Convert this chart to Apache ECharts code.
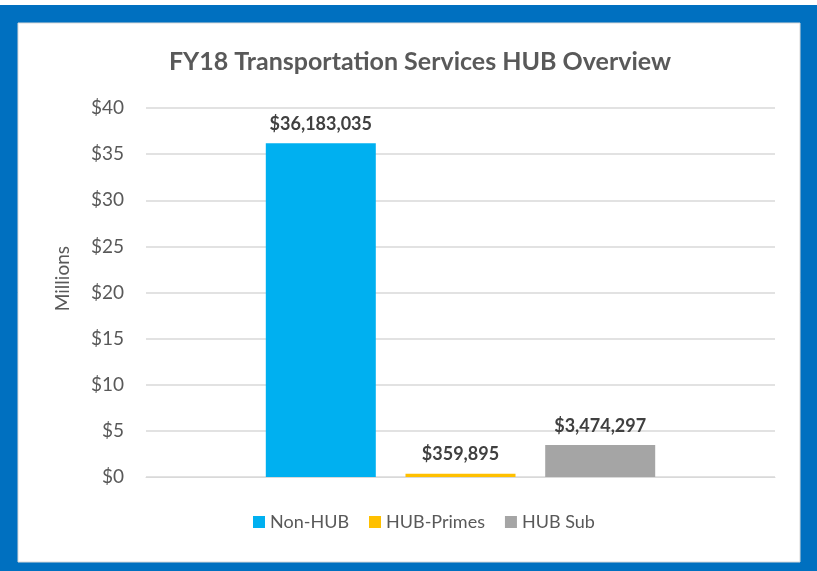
<!DOCTYPE html>
<html>
<head>
<meta charset="utf-8">
<script src="https://cdn.jsdelivr.net/npm/echarts@6/dist/echarts.min.js"></script>
<style>
  html, body { margin: 0; padding: 0; background: #fff; }
  #chart { width: 817px; height: 571px; }
</style>
</head>
<body>
<div id="chart"></div>
<script>
// values in millions of dollars
const categories = ['FY18'];
const seriesNames = ['Non-HUB', 'HUB-Primes', 'HUB Sub'];
const seriesValues = [36.183035, 0.359895, 3.474297];
const seriesColors = ['#00B0F0', '#FFC000', '#A5A5A5'];
const yTicks = [0, 5, 10, 15, 20, 25, 30, 35, 40];

const font = 'Lato, "Open Sans", sans-serif';

const fmtDollars = v => '$' + Math.round(v * 1e6).toLocaleString('en-US');

const chart = echarts.init(document.getElementById('chart'));

chart.setOption({
    animation: false,
    textStyle: { fontFamily: font },
    graphic: [
        // blue frame + white panel
        { type: 'rect', z: -10, shape: { x: 0, y: 5, width: 817, height: 566 }, style: { fill: '#0070C0' } },
        { type: 'rect', z: -9, shape: { x: 18, y: 23, width: 782, height: 539 }, style: { fill: '#fff', stroke: '#D9D9D9', lineWidth: 1 } },
        {
            type: 'text', left: 53, top: 246, rotation: Math.PI / 2,
            style: { text: 'Millions', font: '19px ' + font, fill: '#595959' }
        }
    ],
    title: {
        text: 'FY18 Transportation Services HUB Overview',
        left: 415,
        textAlign: 'center',
        top: 44,
        textStyle: { fontFamily: font, fontSize: 25, fontWeight: 'bold', color: '#595959' }
    },
    legend: {
        bottom: 35,
        left: 248,
        itemWidth: 12,
        itemHeight: 12,
        itemGap: 20,
        icon: 'rect',
        textStyle: { fontFamily: font, fontSize: 18, color: '#595959' },
        data: seriesNames
    },
    grid: { left: 146, right: 42, top: 108, bottom: 94 },
    xAxis: {
        type: 'category',
        data: categories,
        axisLine: { show: true, lineStyle: { color: '#D9D9D9' } },
        axisTick: { show: false },
        axisLabel: { show: false }
    },
    yAxis: {
        type: 'value',
        min: 0,
        max: 40,
        interval: 5,
        axisLine: { show: false },
        axisTick: { show: false },
        axisLabel: {
            fontFamily: font, fontSize: 19, color: '#595959', margin: 22,
            formatter: v => yTicks.includes(v) ? '$' + v : ''
        },
        splitLine: { lineStyle: { color: '#D9D9D9', width: 1.5 } }
    },
    series: seriesNames.map((name, i) => ({
        name: name,
        type: 'bar',
        data: [seriesValues[i]],
        barWidth: 110,
        barGap: '27%',
        itemStyle: { color: seriesColors[i] },
        label: {
            show: true,
            position: 'top',
            distance: 10,
            fontFamily: font,
            fontSize: 18,
            fontWeight: 'bold',
            color: '#404040',
            formatter: p => fmtDollars(p.value)
        }
    }))
});
</script>
</body>
</html>
